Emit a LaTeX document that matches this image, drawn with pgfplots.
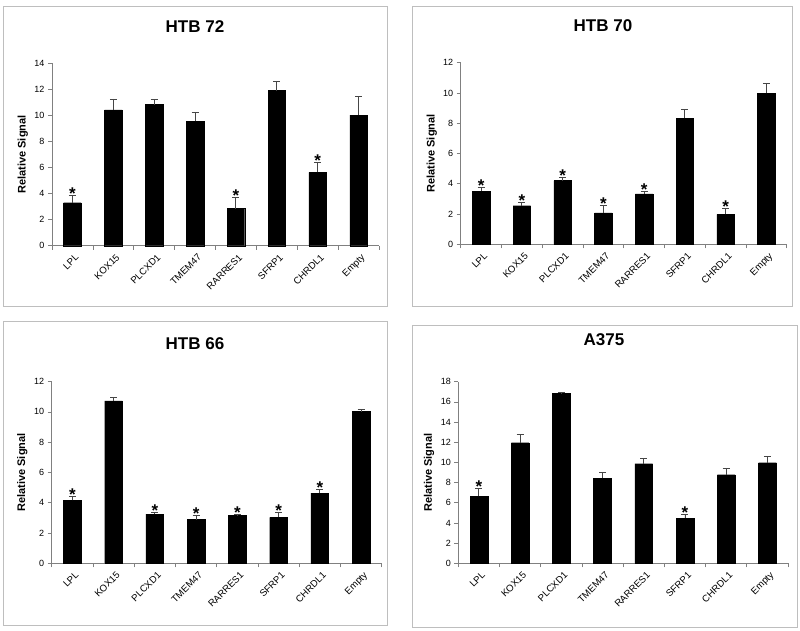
\documentclass[border=0pt]{standalone}
\usepackage{pgfplots}
\pgfplotsset{compat=1.18}
\usepackage{fontspec}
\setmainfont{Liberation Sans}
\definecolor{axgray}{RGB}{128,128,128}
\definecolor{errgray}{RGB}{70,70,70}
\definecolor{boxgray}{RGB}{190,190,190}
\pgfplotsset{
 panel/.style={
  scale only axis,
  anchor=south west,
  xmin=-0.5, xmax=7.5, ymin=0,
  axis x line*=bottom, axis y line*=left,
  axis line style={axgray, line width=0.7pt, -},
  xtick={0,...,7},
  xticklabels={LPL,KOX15,PLCXD1,TMEM47,RARRES1,SFRP1,CHRDL1,Empty},
  major x tick style={draw=none},
  minor xtick={-0.5,0.5,...,7.5},
  tick align=outside,
  major tick length=4pt,
  minor tick length=4pt,
  tick style={axgray, line width=0.7pt},
  ytick distance=2,
  /pgf/number format/assume math mode=true,
  yticklabel style={font=\fontsize{9}{10}\selectfont, text=black},
  xticklabel style={font=\fontsize{9.6}{10}\selectfont, rotate=45, anchor=north east, inner sep=1pt, yshift=-3pt, text=black},
  ylabel={Relative Signal},
  ylabel style={at={(axis description cs:-0.089,0.5)}, anchor=center, font=\bfseries\fontsize{11}{12}\selectfont},
  clip=false,
 },
 bars/.style={ybar, bar width=0.43, fill=black, draw=black,
  error bars/.cd, y dir=plus, y explicit,
  error bar style={errgray, line width=0.9pt},
  error mark=-, error mark options={errgray, line width=0.9pt, mark size=3.5pt, rotate=90}},
 stars/.style={draw=none, mark=none, nodes near coords={*},
  every node near coord/.append style={anchor=base, yshift=-4.2pt, font=\bfseries\fontsize{17}{17}\selectfont, text=black}},
}
\begin{document}
\begin{tikzpicture}[x=1pt,y=1pt]
\path[use as bounding box] (0,0) rectangle (800,630);
\draw[boxgray, line width=0.8pt] (3,624) rectangle (387,324);
\draw[boxgray, line width=0.8pt] (412,624) rectangle (792,324);
\draw[boxgray, line width=0.8pt] (3,309) rectangle (387,5);
\draw[boxgray, line width=0.8pt] (412,305) rectangle (797,3);
\node[font=\bfseries\fontsize{17}{18}\selectfont] at (195,603) {HTB 72};
\node[font=\bfseries\fontsize{17}{18}\selectfont] at (603,604) {HTB 70};
\node[font=\bfseries\fontsize{17}{18}\selectfont] at (195,286) {HTB 66};
\node[font=\bfseries\fontsize{17}{18}\selectfont] at (604,290) {A375};

% HTB 72
\begin{axis}[panel, at={(52pt,384.3pt)}, width=327pt, height=182.4pt, ymax=14]
\addplot[bars] coordinates {
 (0,3.30) +- (0,0.56)
 (1,10.42) +- (0,0.84)
 (2,10.83) +- (0,0.36)
 (3,9.55) +- (0,0.71)
 (4,2.84) +- (0,0.85)
 (5,11.90) +- (0,0.67)
 (6,5.63) +- (0,0.74)
 (7,10.03) +- (0,1.39)
};
\addplot[stars] coordinates {(0,3.86) (4,3.69) (6,6.37)};
\end{axis}

% HTB 70
\begin{axis}[panel, at={(460.7pt,385.7pt)}, width=326pt, height=181.6pt, ymax=12]
\addplot[bars] coordinates {
 (0,3.52) +- (0,0.25)
 (1,2.55) +- (0,0.23)
 (2,4.21) +- (0,0.24)
 (3,2.07) +- (0,0.51)
 (4,3.33) +- (0,0.17)
 (5,8.33) +- (0,0.59)
 (6,1.98) +- (0,0.40)
 (7,9.98) +- (0,0.62)
};
\addplot[stars] coordinates {(0,3.77) (1,2.78) (2,4.45) (3,2.58) (4,3.50) (6,2.38)};
\end{axis}

% HTB 66
\begin{axis}[panel, at={(51.7pt,66.7pt)}, width=330pt, height=181.7pt, ymax=12]
\addplot[bars] coordinates {
 (0,4.16) +- (0,0.25)
 (1,10.73) +- (0,0.24)
 (2,3.24) +- (0,0.13)
 (3,2.89) +- (0,0.26)
 (4,3.15) +- (0,0.07)
 (5,3.04) +- (0,0.35)
 (6,4.63) +- (0,0.26)
 (7,10.02) +- (0,0.13)
};
\addplot[stars] coordinates {(0,4.41) (2,3.37) (3,3.15) (4,3.22) (5,3.39) (6,4.89)};
\end{axis}

% A375
\begin{axis}[panel, at={(458.3pt,66.7pt)}, width=329.7pt, height=181.6pt, ymax=18]
\addplot[bars] coordinates {
 (0,6.67) +- (0,0.79)
 (1,11.95) +- (0,0.82)
 (2,16.83) +- (0,0.07)
 (3,8.42) +- (0,0.59)
 (4,9.87) +- (0,0.53)
 (5,4.49) +- (0,0.33)
 (6,8.78) +- (0,0.59)
 (7,9.97) +- (0,0.62)
};
\addplot[stars] coordinates {(0,7.46) (5,4.82)};
\end{axis}
\end{tikzpicture}
\end{document}
